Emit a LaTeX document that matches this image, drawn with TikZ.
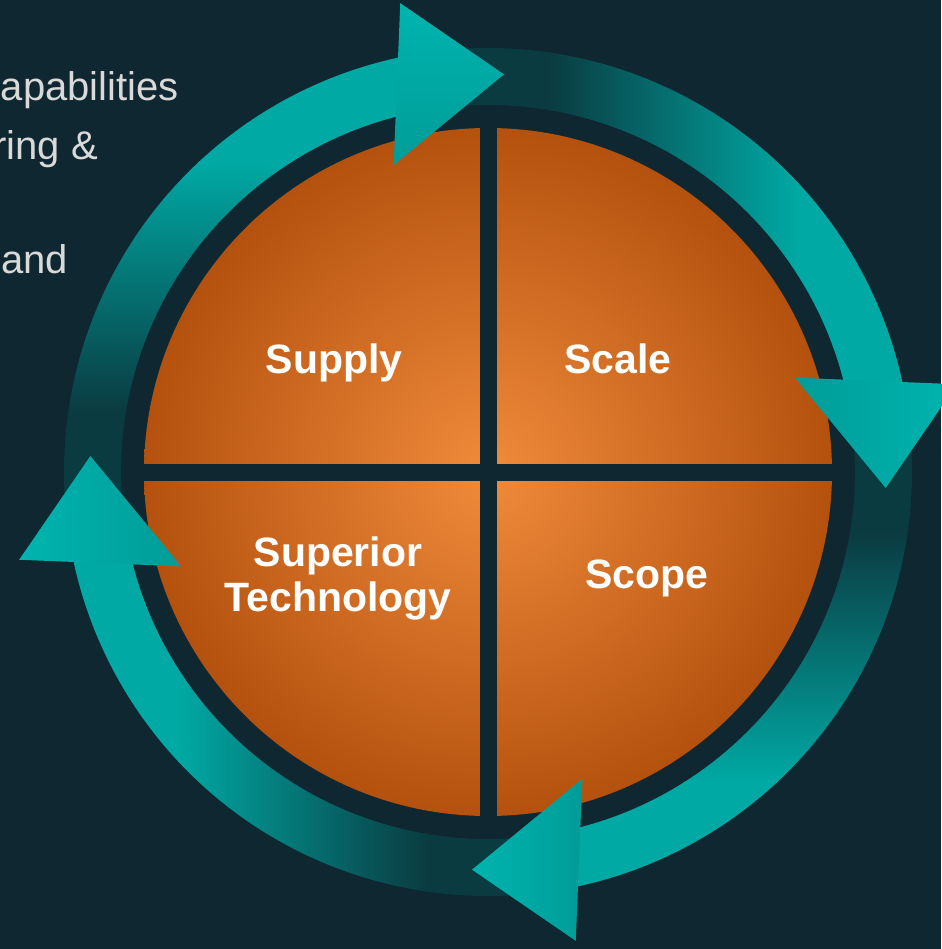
\documentclass[tikz,border=0pt]{standalone}
\usepackage{fontspec}
\setmainfont{Liberation Sans}
\usetikzlibrary{calc}
\definecolor{bgc}{HTML}{0F2730}
\definecolor{tealB}{HTML}{00A9A4}
\definecolor{tealD}{HTML}{0A3B41}
\definecolor{headL}{HTML}{00B4AF}
\definecolor{headD}{HTML}{009C98}
\definecolor{orIn}{HTML}{F08B3B}
\definecolor{orOut}{HTML}{B4510E}
\definecolor{greytxt}{HTML}{D9D9D9}
\tikzset{
  lab/.style={font=\bfseries\fontsize{41}{45}\selectfont, text=white, align=center, inner sep=0pt},
  side/.style={font=\fontsize{40}{48}\selectfont, text=greytxt, inner sep=0pt, anchor=base east},
  band/.style={insert path={($(O)+(#1-88:424)$) arc[start angle=#1-88, end angle=#1+3, radius=424] -- ($(O)+(#1+3:367)$) arc[start angle=#1+3, end angle=#1-88, radius=367] -- cycle}},
  head/.style={insert path={($(O)+(#1+2.4:477)$) -- ($(O)+(#1+15.3:398)$) -- ($(O)+(#1-4.1:321)$) -- cycle}},
}
\begin{document}
\begin{tikzpicture}[x=1pt,y=-1pt]
\useasboundingbox (0,0) rectangle (941,949);
\fill[bgc] (0,0) rectangle (941,949);
\coordinate (O) at (488,472);

% side text (clipped at the left border)
\node[side] (l1) at (179,101) {apabilities};
\node[side] (l2) at (98,160) {ring \&};
\node[side] (l3) at (68,273) {and};

% orange disc with quadrant gaps
\shade[inner color=orIn, outer color=orOut] (O) circle (344);
\fill[bgc] (479.5,110) rectangle (496.5,834);
\fill[bgc] (126,463.5) rectangle (850,480.5);

% arrow bands
\begin{scope}
 \clip[band=-103];
 \fill[tealB] (0,0) rectangle (941,163);
 \shade[top color=tealB, bottom color=tealD] (0,162) rectangle (941,412);
 \fill[tealD] (0,411) rectangle (941,949);
\end{scope}
\begin{scope}
 \clip[band=-13];
 \fill[tealD] (0,0) rectangle (549,949);
 \shade[left color=tealD, right color=tealB] (548,0) rectangle (798,949);
 \fill[tealB] (797,0) rectangle (941,949);
\end{scope}
\begin{scope}
 \clip[band=77];
 \fill[tealD] (0,0) rectangle (941,533);
 \shade[top color=tealD, bottom color=tealB] (0,532) rectangle (941,782);
 \fill[tealB] (0,781) rectangle (941,949);
\end{scope}
\begin{scope}
 \clip[band=167];
 \fill[tealB] (0,0) rectangle (179,949);
 \shade[left color=tealB, right color=tealD] (178,0) rectangle (428,949);
 \fill[tealD] (427,0) rectangle (941,949);
\end{scope}

% arrow heads
\shade[top color=headL, bottom color=headD, head=-103];
\shade[left color=headD, right color=headL, head=-13];
\shade[left color=headL, right color=headD, head=77];
\shade[left color=headL, right color=headD, head=167];

% labels
\node[lab, anchor=base] (sup) at (334,373) {Supply};
\node[lab, anchor=base] (sca) at (618,373) {Scale};
\node[lab] (tec) at (338,578) {Superior\\Technology};
\node[lab, anchor=base] (sco) at (647,588) {Scope};
\end{tikzpicture}
\end{document}
